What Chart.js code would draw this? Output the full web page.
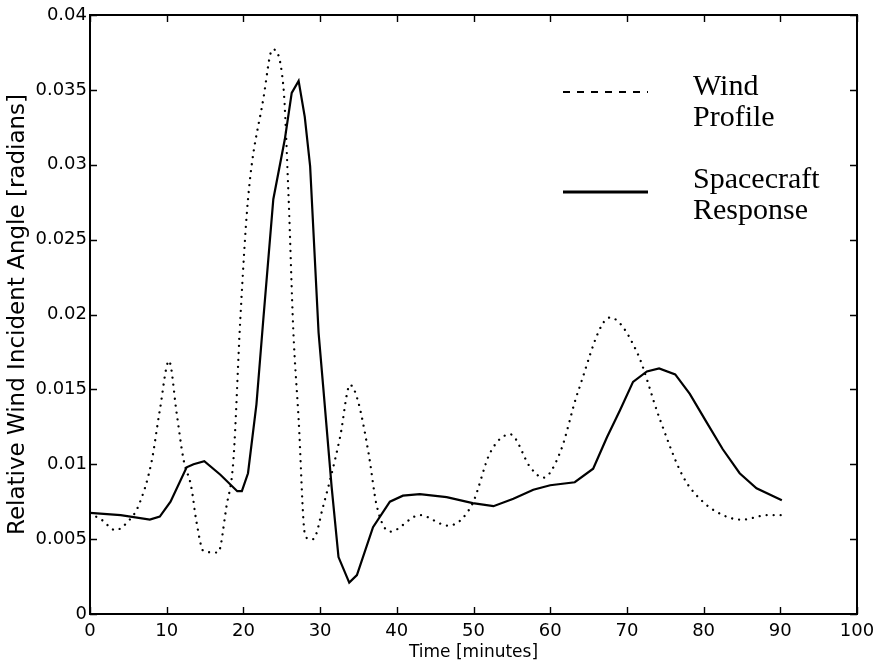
<!DOCTYPE html>
<html>
<head>
<meta charset="utf-8">
<title>Relative Wind Incident Angle</title>
<script src="https://cdn.jsdelivr.net/npm/chart.js@4.4.1/dist/chart.umd.min.js"></script>
<style>
  html, body { margin: 0; padding: 0; background: #fff; }
  #windChart { display: block; }
</style>
</head>
<body>
<canvas id="windChart" width="876" height="667"></canvas>
<script>
// wind profile (dotted)
const windTime = [0, 1.5, 3.3, 5, 6.3, 8, 9.1, 10.3, 11.3, 12.2, 13.2, 13.9, 14.8, 16.7, 17.8, 18.7,
  19.6, 20.6, 22.6, 23.8, 25.2, 25.9, 26.5, 27.2, 28, 28.6, 29.1, 30.4, 32.6, 33.9, 34.9, 36.3,
  37.4, 39.1, 43, 46.7, 49.8, 52.2, 54.8, 57.4, 59.1, 61.3, 63.6, 67.8, 71.3, 74.3, 77.3, 79.9,
  83, 85, 88.3, 90.2];
const windAngle = [0.0067, 0.0063, 0.0056, 0.0062, 0.0072, 0.0101, 0.0136, 0.0169, 0.0134, 0.0103, 0.0085, 0.0061, 0.0042, 0.0041, 0.0072, 0.0103,
  0.0197, 0.0277, 0.0344, 0.0377, 0.0353, 0.0277, 0.0190, 0.0130, 0.0054, 0.0050, 0.0050, 0.0072, 0.0118, 0.0153, 0.0143, 0.0108,
  0.0072, 0.0055, 0.0066, 0.0059, 0.0073, 0.0108, 0.0120, 0.0098, 0.0091, 0.0108, 0.0148, 0.0198, 0.0175, 0.0130, 0.0092, 0.0075,
  0.0065, 0.0063, 0.0066, 0.0066];

// spacecraft response (solid)
const craftTime = [0, 4, 7.8, 9.1, 10.5, 12.6, 13.5, 14.9, 17, 19.2, 19.8, 20.6, 21.7, 22.6, 23.9, 25.4,
  26.3, 27.2, 28, 28.7, 29.8, 30.4, 31.5, 32.4, 33.8, 34.8, 36.9, 39.1, 40.8, 43, 46.5, 49.9,
  52.6, 55.2, 57.8, 60, 63.2, 65.6, 67.4, 69.1, 70.8, 72.6, 74.2, 76.3, 78.2, 80.4, 82.5, 84.7,
  86.9, 90.2];
const craftAngle = [0.00675, 0.0066, 0.0063, 0.0065, 0.0075, 0.0098, 0.0100, 0.0102, 0.0093, 0.0082, 0.0082, 0.0094, 0.0140, 0.0197, 0.0277, 0.0317,
  0.0348, 0.0356, 0.0332, 0.0299, 0.0188, 0.0152, 0.0085, 0.0038, 0.0021, 0.0026, 0.0058, 0.0075, 0.0079, 0.0080, 0.0078, 0.0074,
  0.0072, 0.0077, 0.0083, 0.0086, 0.0088, 0.0097, 0.0118, 0.0136, 0.0155, 0.0162, 0.0164, 0.0160, 0.0147, 0.0128, 0.0110, 0.0094,
  0.0084, 0.0076];

const xTicks = [0, 10, 20, 30, 40, 50, 60, 70, 80, 90, 100];
const yTicks = [0, 0.005, 0.01, 0.015, 0.02, 0.025, 0.03, 0.035, 0.04];

const legendLabels = [['Wind', 'Profile'], ['Spacecraft', 'Response']];

const toPoints = (xs, ys) => xs.map((x, i) => ({ x: x, y: ys[i] }));

// box around the plot with the ticks pointing inwards on all four sides
const frameTicks = {
  id: 'frameTicks',
  afterDraw(chart) {
    const ctx = chart.ctx;
    const a = chart.chartArea;
    const xs = chart.scales.x, ys = chart.scales.y;
    const len = 7;
    ctx.save();
    ctx.strokeStyle = '#000';
    ctx.lineWidth = 1.4;
    ctx.beginPath();
    xTicks.forEach(v => {
      const p = Math.round(xs.getPixelForValue(v)) + 0.5;
      ctx.moveTo(p, a.bottom); ctx.lineTo(p, a.bottom - len);
      ctx.moveTo(p, a.top); ctx.lineTo(p, a.top + len);
    });
    yTicks.forEach(v => {
      const p = Math.round(ys.getPixelForValue(v)) + 0.5;
      ctx.moveTo(a.left, p); ctx.lineTo(a.left + len, p);
      ctx.moveTo(a.right, p); ctx.lineTo(a.right - len, p);
    });
    ctx.stroke();
    ctx.lineWidth = 2;
    ctx.strokeRect(a.left, a.top, a.right - a.left, a.bottom - a.top);
    ctx.restore();
  }
};

// legend in the upper right: line sample on the left, two-line label on the right
const sideLegend = {
  id: 'sideLegend',
  afterDraw(chart) {
    const ctx = chart.ctx;
    const rows = [
      { y: 92, dash: [7, 7], width: 2, text: legendLabels[0], base: 95 },
      { y: 192, dash: [], width: 3, text: legendLabels[1], base: 188 }
    ];
    ctx.save();
    ctx.strokeStyle = '#000';
    ctx.fillStyle = '#000';
    ctx.font = '30px "Liberation Serif", "Times New Roman", serif';
    ctx.textBaseline = 'alphabetic';
    rows.forEach(r => {
      ctx.setLineDash(r.dash);
      ctx.lineWidth = r.width;
      ctx.beginPath();
      ctx.moveTo(563, r.y);
      ctx.lineTo(648, r.y);
      ctx.stroke();
      ctx.fillText(r.text[0], 693, r.base);
      ctx.fillText(r.text[1], 693, r.base + 31);
    });
    ctx.restore();
  }
};

Chart.defaults.font.family = '"DejaVu Sans", Arial, sans-serif';
Chart.defaults.font.size = 18;
Chart.defaults.color = '#000';

new Chart(document.getElementById('windChart').getContext('2d'), {
  type: 'line',
  data: {
    datasets: [
      {
        label: 'Wind Profile',
        data: toPoints(windTime, windAngle),
        borderColor: '#000',
        borderWidth: 2.3,
        borderDash: [0.01, 7],
        borderCapStyle: 'round',
        cubicInterpolationMode: 'monotone',
        pointRadius: 0,
        fill: false
      },
      {
        label: 'Spacecraft Response',
        data: toPoints(craftTime, craftAngle),
        borderColor: '#000',
        borderWidth: 2.2,
        tension: 0,
        pointRadius: 0,
        fill: false
      }
    ]
  },
  options: {
    responsive: false,
    animation: false,
    events: [],
    layout: { padding: { top: 15, right: 19, bottom: 0, left: 0 } },
    plugins: {
      legend: { display: false },
      tooltip: { enabled: false }
    },
    scales: {
      x: {
        type: 'linear',
        min: 0,
        max: 100,
        afterBuildTicks: s => { s.ticks = xTicks.map(v => ({ value: v })); },
        afterFit: s => { s.height = 53; s.paddingLeft = 0; s.paddingRight = 0; },
        grid: { display: false, drawTicks: false },
        border: { display: false },
        ticks: { padding: 7, maxRotation: 0, callback: v => String(v) },
        title: {
          display: true,
          text: 'Time [minutes]',
          font: { size: 17 },
          padding: { top: 0, bottom: 4 }
        }
      },
      y: {
        type: 'linear',
        min: 0,
        max: 0.04,
        afterBuildTicks: s => { s.ticks = yTicks.map(v => ({ value: v })); },
        afterFit: s => { s.width = 90; },
        grid: { display: false, drawTicks: false },
        border: { display: false },
        ticks: { padding: 3, callback: v => String(Number(v.toFixed(3))) },
        title: {
          display: true,
          text: 'Relative Wind Incident Angle [radians]',
          font: { size: 23 },
          padding: { top: 4, bottom: 0 }
        }
      }
    }
  },
  plugins: [frameTicks, sideLegend]
});
</script>
</body>
</html>
